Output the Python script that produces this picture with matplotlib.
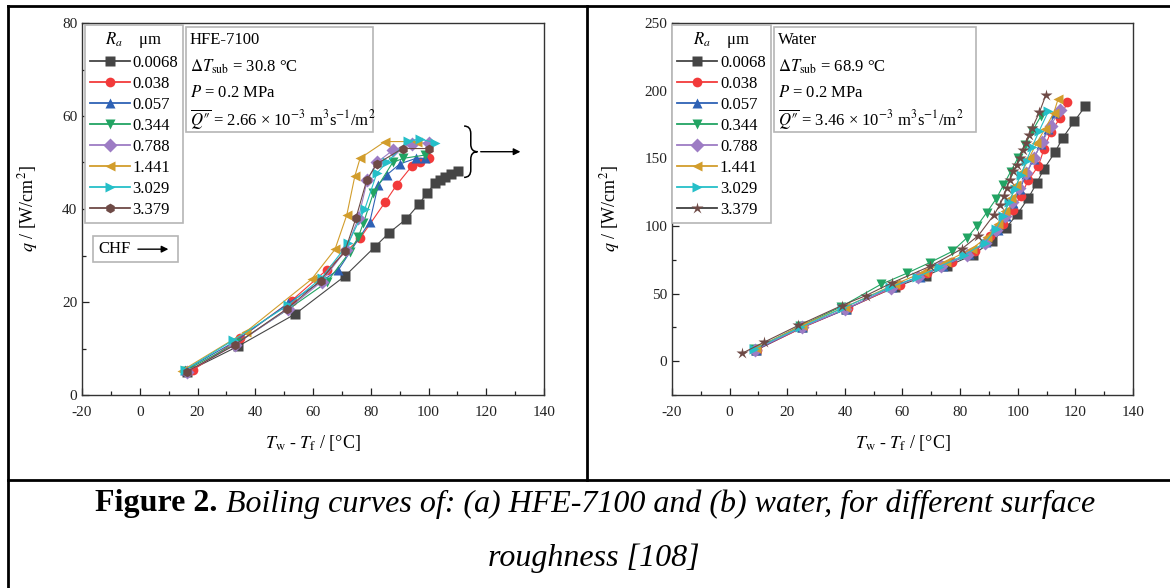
import numpy as np
import matplotlib
matplotlib.use("Agg")
import matplotlib.pyplot as plt
from matplotlib.lines import Line2D
from matplotlib.patches import Rectangle, PathPatch
from matplotlib.path import Path

plt.rcParams['font.family'] = ['Liberation Serif', 'DejaVu Serif']
plt.rcParams['mathtext.fontset'] = 'stix'
plt.rcParams['axes.unicode_minus'] = False

# roughness labels / styles
ra_labels = ["0.0068", "0.038", "0.057", "0.344", "0.788", "1.441", "3.029", "3.379"]
colors = ["#454545", "#f23a3a", "#2e62b5", "#22a463", "#9d7cc4", "#d29d2c", "#25bfc8", "#6e4a46"]
markers_a = ["s", "o", "^", "v", "D", "<", ">", "h"]
markers_b = ["s", "o", "^", "v", "D", "<", ">", "*"]

# (a) HFE-7100
hfe_x = [
    [16.3, 34.1, 53.8, 71.1, 81.5, 86.4, 92.2, 96.8, 99.4, 102.3, 104.0, 105.7, 107.7, 110.1],
    [18.5, 34.7, 52.6, 64.7, 76.3, 84.9, 89.0, 94.2, 97.1, 100.0],
    [15.7, 33.0, 51.4, 68.8, 79.7, 82.6, 85.5, 90.1, 95.7, 98.8],
    [15.7, 33.3, 51.8, 64.7, 72.8, 75.7, 77.4, 80.9, 87.6, 91.3, 98.8],
    [16.3, 33.0, 51.4, 63.0, 71.4, 75.7, 78.8, 82.1, 87.8, 94.2, 100.0],
    [14.5, 36.8, 59.5, 67.6, 71.7, 74.5, 76.3, 84.9, 95.9],
    [15.7, 32.4, 51.4, 63.0, 72.2, 78.0, 82.1, 85.5, 93.0, 97.1, 102.3],
    [16.3, 33.0, 51.1, 62.6, 71.1, 74.9, 78.6, 82.1, 91.0, 100.0],
]
hfe_q = [
    [5.0, 10.5, 17.4, 25.6, 31.9, 34.9, 37.8, 41.1, 43.4, 45.5, 46.2, 46.8, 47.5, 48.2],
    [5.4, 12.2, 20.3, 26.9, 33.7, 41.4, 45.2, 49.2, 50.0, 50.9],
    [5.4, 11.5, 19.7, 26.9, 37.3, 45.2, 47.3, 49.7, 50.9, 50.9],
    [5.2, 11.1, 18.6, 24.2, 30.8, 34.0, 36.9, 43.4, 50.0, 50.9, 51.6],
    [5.0, 10.8, 18.5, 24.4, 31.2, 38.0, 46.2, 50.0, 52.7, 54.0, 54.3],
    [5.2, 13.6, 24.9, 31.3, 38.7, 47.1, 50.9, 54.5, 54.5],
    [5.4, 11.8, 19.3, 25.2, 32.6, 40.1, 47.7, 50.0, 54.7, 55.0, 54.3],
    [5.0, 10.8, 18.6, 24.6, 31.0, 38.1, 46.2, 49.7, 53.0, 53.0],
]

# (b) water
water_x = [
    [9.0, 25.2, 40.5, 57.5, 68.0, 75.5, 84.6, 91.0, 95.9, 99.9, 103.7, 106.6, 109.1, 112.9, 115.6, 119.6, 123.4],
    [9.5, 25.5, 41.0, 59.1, 68.6, 77.1, 85.2, 90.4, 95.0, 98.3, 101.0, 103.7, 107.2, 109.1, 111.4, 114.7, 117.2],
    [9.2, 25.0, 40.5, 56.5, 66.0, 74.0, 83.0, 89.0, 93.0, 96.0, 98.5, 100.8, 103.0, 105.5, 108.0, 110.5, 113.0],
    [8.5, 24.5, 38.5, 52.5, 61.5, 69.5, 77.3, 82.3, 86.0, 89.2, 92.5, 95.0, 97.5, 100.0, 102.5, 105.0, 108.0],
    [8.8, 25.0, 40.0, 56.0, 65.5, 73.5, 82.5, 88.5, 92.5, 95.5, 98.0, 100.5, 103.0, 105.5, 108.5, 111.5, 114.5],
    [9.0, 25.0, 40.0, 57.5, 67.5, 75.0, 84.0, 89.5, 93.0, 95.5, 97.5, 99.5, 101.5, 104.0, 106.5, 109.5, 112.5, 114.0],
    [8.5, 24.5, 39.0, 55.5, 65.0, 72.5, 81.5, 88.5, 92.5, 95.0, 97.0, 99.0, 101.0, 103.0, 105.0, 107.5, 110.6],
    [4.2, 11.9, 23.8, 38.9, 47.3, 56.3, 69.6, 80.6, 86.3, 91.8, 93.8, 95.2, 96.2, 97.3, 98.5, 99.6, 100.8,
     101.7, 102.9, 104.0, 105.0, 107.5, 109.8],
]
water_q = [
    [8.0, 25.0, 38.8, 54.8, 63.0, 70.0, 78.8, 88.6, 98.5, 108.9, 120.7, 131.8, 142.1, 154.4, 165.0, 177.3, 188.3],
    [8.5, 25.0, 39.0, 56.6, 65.3, 73.1, 81.2, 92.3, 101.7, 111.5, 122.4, 133.7, 144.5, 156.9, 169.1, 179.8, 191.3],
    [8.3, 25.0, 38.5, 55.0, 62.5, 70.0, 79.0, 88.0, 97.0, 107.0, 117.0, 127.5, 138.5, 149.5, 160.5, 171.5, 183.5],
    [8.8, 26.0, 40.0, 56.8, 65.0, 72.9, 81.2, 91.1, 100.3, 109.8, 120.0, 130.0, 140.0, 150.0, 160.0, 170.0, 181.0],
    [8.5, 25.0, 38.5, 54.0, 62.0, 70.0, 78.5, 87.5, 97.0, 107.0, 117.5, 128.0, 139.0, 150.0, 162.0, 174.0, 186.0],
    [9.5, 26.5, 40.0, 57.0, 66.0, 73.5, 83.0, 92.0, 101.5, 111.0, 120.5, 130.0, 140.0, 150.5, 161.0, 172.0, 183.5, 193.8],
    [9.0, 25.0, 39.0, 54.5, 62.0, 69.5, 78.5, 87.5, 97.5, 107.5, 117.5, 127.5, 137.5, 148.0, 158.5, 170.5, 184.6],
    [5.7, 14.0, 26.4, 41.1, 48.5, 57.9, 70.2, 83.0, 92.8, 108.3, 115.7, 121.9, 128.1, 134.2, 140.3, 145.3, 150.2,
     156.4, 161.3, 167.4, 172.4, 183.9, 197.0],
]

info_a = ["HFE-7100", r"$\Delta T_{\rm sub}$ = 30.8 °C", r"$P$ = 0.2 MPa",
          "$\\overline{Q\u2033}$ = 2.66 × 10$^{-3}$ m$^3$s$^{-1}$/m$^2$"]
info_b = ["Water", r"$\Delta T_{\rm sub}$ = 68.9 °C", r"$P$ = 0.2 MPa",
          "$\\overline{Q\u2033}$ = 3.46 × 10$^{-3}$ m$^3$s$^{-1}$/m$^2$"]

fig = plt.figure(figsize=(11.7, 5.88), dpi=100)
W, H = 1170, 588
axa = fig.add_axes([82 / W, 1 - 395 / H, 462 / W, 372 / H])
axb = fig.add_axes([672 / W, 1 - 395 / H, 461 / W, 372 / H])


def style_axes(ax, ylim, ymaj, ymin):
    ax.set_xlim(-20, 140)
    ax.set_ylim(*ylim)
    ax.set_xticks(np.arange(-20, 141, 20))
    ax.set_xticks(np.arange(-20, 141, 10), minor=True)
    ax.set_yticks(np.arange(0, ylim[1] + 1, ymaj))
    ax.set_yticks(np.arange(ylim[0], ylim[1] + 1, ymin), minor=True)
    ax.tick_params(which='both', direction='in', top=False, right=False, labelsize=11, colors='#222222')
    ax.tick_params(which='major', length=5, width=0.9)
    ax.tick_params(axis='x', which='major', pad=8)
    ax.tick_params(which='minor', length=3, width=0.9)
    for s in ax.spines.values():
        s.set_linewidth(1.0)
        s.set_color('#333333')
    ax.set_xlabel(r"$T_{\rm w}$ - $T_{\rm f}$ / [°C]", fontsize=13, labelpad=10)
    ax.set_ylabel(r"$q$ / [W/cm$^2$]", fontsize=13, labelpad=16)


def info_box(ax, x0, x1, y1, lines):
    ax.add_patch(Rectangle((x0, y1 - 0.282), x1 - x0, 0.282, transform=ax.transAxes,
                           fill=False, edgecolor='#b5b5b5', lw=1.2, zorder=5))
    for i, t in enumerate(lines):
        ax.text(x0 + 0.008, y1 - 0.035 - i * 0.07, t, transform=ax.transAxes,
                fontsize=12, va='center', ha='left', zorder=6)


for ax, xs, qs, mk in [(axa, hfe_x, hfe_q, markers_a), (axb, water_x, water_q, markers_b)]:
    for i in range(len(ra_labels)):
        ms = 9 if mk[i] == '*' else 7
        ax.plot(xs[i], qs[i], color=colors[i], lw=0.8, marker=mk[i], ms=ms, mec='none',
                zorder=3 + i * 0.1)

style_axes(axa, (0, 80), 20, 10)
style_axes(axb, (-25, 250), 50, 25)

# legends
for ax, mk, x_anchor in [(axa, markers_a, 0.006), (axb, markers_b, 0.001)]:
    handles = []
    for i in range(len(ra_labels)):
        lc = colors[i]
        if mk[i] == '*':
            lc = '#404040'
        handles.append(Line2D([], [], color=lc, lw=1.3, marker=mk[i], mfc=colors[i], mec='none',
                              ms=9 if mk[i] == '*' else 7))
    leg = ax.legend(handles, ra_labels, title=r"$R_a$    μm", loc='upper left',
                    bbox_to_anchor=(x_anchor, 0.995), fontsize=12, title_fontsize=12,
                    frameon=True, fancybox=False, edgecolor='#b5b5b5', framealpha=1,
                    handlelength=2.4, handletextpad=0.15, labelspacing=0.3,
                    borderpad=0.3, borderaxespad=0.0)
    leg.get_frame().set_linewidth(1.2)

info_box(axa, 0.225, 0.63, 0.988, info_a)
info_box(axb, 0.221, 0.66, 0.988, info_b)

# CHF box
axa.add_patch(Rectangle((0.024, 0.358), 0.184, 0.069, transform=axa.transAxes,
                        fill=False, edgecolor='#b5b5b5', lw=1.2, zorder=5))
axa.text(0.035, 0.392, "CHF", transform=axa.transAxes, fontsize=12, va='center', ha='left')
axa.annotate("", xy=(0.193, 0.392), xytext=(0.115, 0.392), xycoords='axes fraction',
             arrowprops=dict(arrowstyle='-|>', color='black', lw=1.0, mutation_scale=10))

# brace + arrow
bx0, bx1, by0, by1 = 0.827, 0.856, 0.585, 0.723
ym = (by0 + by1) / 2
bxm = (bx0 + bx1) / 2
verts = [(bx0, by1), (bxm, by1), (bxm, by1 - 0.02), (bxm, ym + 0.02), (bxm, ym), (bx1, ym),
         (bxm, ym), (bxm, ym - 0.02), (bxm, by0 + 0.02), (bxm, by0), (bx0, by0)]
codes = [Path.MOVETO, Path.CURVE3, Path.CURVE3, Path.LINETO, Path.CURVE3, Path.CURVE3,
         Path.CURVE3, Path.CURVE3, Path.LINETO, Path.CURVE3, Path.CURVE3]
axa.add_patch(PathPatch(Path(verts, codes), transform=axa.transAxes, fill=False, lw=1.1,
                        edgecolor='black', clip_on=False))
axa.annotate("", xy=(0.955, ym), xytext=(0.857, ym), xycoords='axes fraction',
             arrowprops=dict(arrowstyle='-|>', color='black', lw=1.0, mutation_scale=10))

# table borders
def hline(y, x0, x1):
    fig.add_artist(Line2D([x0 / W, x1 / W], [1 - y / H, 1 - y / H], color='black', lw=2))


def vline(x, y0, y1):
    fig.add_artist(Line2D([x / W, x / W], [1 - y0 / H, 1 - y1 / H], color='black', lw=2))


hline(6, 8, 1170)
hline(480, 8, 1170)
vline(8, 6, 588)
vline(587, 6, 480)

# caption
fig.canvas.draw()
r = fig.canvas.get_renderer()
t1 = fig.text(0, 1 - 504 / H, "Figure 2.", fontsize=23, fontweight='bold', va='center', ha='left')
t2 = fig.text(0, 1 - 504 / H, " Boiling curves of: (a) HFE-7100 and (b) water, for different surface",
              fontsize=23, style='italic', va='center', ha='left')
w1 = t1.get_window_extent(r).width
w2 = t2.get_window_extent(r).width
x_start = 595 - (w1 + w2) / 2
t1.set_x(x_start / W)
t2.set_x((x_start + w1) / W)
fig.text(594 / W, 1 - 558 / H, "roughness [108]", fontsize=23, style='italic', va='center', ha='center')

fig.savefig("out.png", dpi=100)
